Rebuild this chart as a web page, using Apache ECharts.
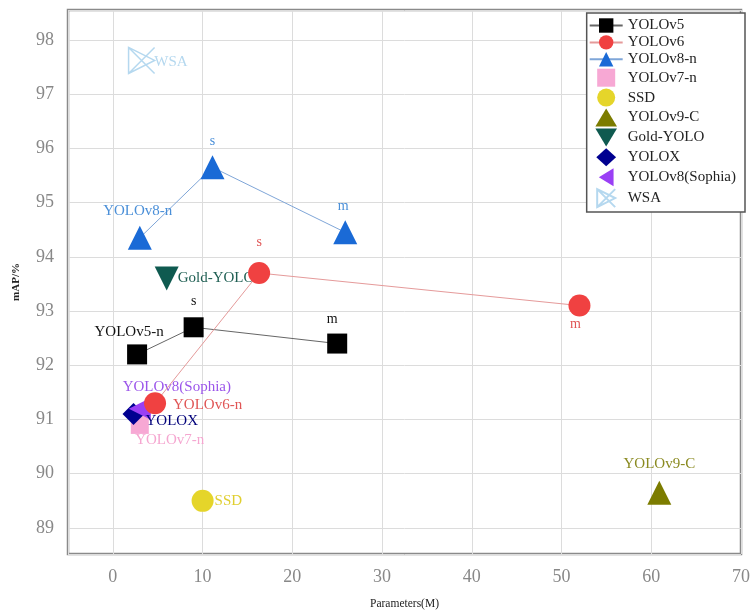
<!DOCTYPE html>
<html><head><meta charset="utf-8">
<script src="https://cdn.jsdelivr.net/npm/echarts@6/dist/echarts.min.js"></script>
<style>html,body{margin:0;padding:0;background:#fff}#c{width:753px;height:616px}</style>
</head><body><div id="c"></div>
<script>
// ---- data ----
const seriesNames = ['YOLOv5','YOLOv6','YOLOv8-n','YOLOv7-n','SSD','YOLOv9-C','Gold-YOLO','YOLOX','YOLOv8(Sophia)','WSA'];
const yolov5Params = [2.7, 9.0, 25.0];
const yolov5MAP    = [92.2, 92.7, 92.4];
const yolov5Labels = ['YOLOv5-n', 's', 'm'];
const yolov6Params = [4.7, 16.3, 52.0];
const yolov6MAP    = [91.3, 93.7, 93.1];
const yolov6Labels = ['YOLOv6-n', 's', 'm'];
const yolov8Params = [3.0, 11.1, 25.9];
const yolov8MAP    = [94.35, 95.65, 94.45];
const yolov8Labels = ['YOLOv8-n', 's', 'm'];
const yolov7nPoint = [3.0, 90.9];
const ssdPoint     = [10.0, 89.5];
const yolov9cPoint = [60.9, 89.65];
const goldYoloPoint= [6.0, 93.6];
const yoloxPoint   = [2.3, 91.1];
const sophiaPoint  = [3.0, 91.2];
const wsaPoint     = [3.2, 97.62];
const xTicks = [0,10,20,30,40,50,60,70];
const yTicks = [89,90,91,92,93,94,95,96,97,98];

const FONT = "'Liberation Serif','Times New Roman',serif";
const chart = echarts.init(document.getElementById('c'));

function lineData(xs, ys, labels, positions, color) {
  return xs.map((x, i) => ({
    value: [x, ys[i]],
    label: { show: true, formatter: labels[i], position: positions[i].pos, offset: positions[i].off || [0,0],
             color: color, fontFamily: FONT, fontSize: positions[i].fs || 14 }
  }));
}
function single(pt, text, pos, off, color) {
  return [{ value: pt, label: { show: true, formatter: text, position: pos, offset: off, color: color, fontFamily: FONT, fontSize: 15 } }];
}

const wsaPath = 'path://M0,0 L20,10 L0,20 Z M0,0 L20,20 M20,0 L0,20';
const icons = {
  rect: 'path://M0,0 L20,0 L20,20 L0,20 Z',
  circle: 'path://M10,0 A10,10 0 1,1 10,20 A10,10 0 1,1 10,0 Z',
  tri: 'path://M12,0 L24,20 L0,20 Z',
  down: 'path://M0,0 L24,0 L12,20 Z',
  diamond: 'path://M11,0 L22,10 L11,20 L0,10 Z',
  left: 'path://M0,11 L18,0 L18,22 Z'
};

chart.setOption({
  backgroundColor: '#fff',
  animation: false,
  grid: { left: 68, right: 12, top: 10, bottom: 62, show: true, borderColor: '#8a8a8a', borderWidth: 2.5 },
  legend: {
    orient: 'vertical', right: 8, top: 13,
    backgroundColor: '#fff', borderColor: '#555', borderWidth: 1.5, borderRadius: 0,
    padding: [5, 9, 4, 2], itemGap: 1.9, itemWidth: 33, itemHeight: 18,
    textStyle: { fontFamily: FONT, fontSize: 15, color: '#222' },
    data: [
      { name: 'YOLOv5' }, { name: 'YOLOv6' }, { name: 'YOLOv8-n' },
      { name: 'YOLOv7-n', icon: icons.rect },
      { name: 'SSD', icon: icons.circle },
      { name: 'YOLOv9-C', icon: icons.tri },
      { name: 'Gold-YOLO', icon: icons.down },
      { name: 'YOLOX', icon: icons.diamond },
      { name: 'YOLOv8(Sophia)', icon: icons.left },
      { name: 'WSA' }
    ]
  },
  xAxis: {
    type: 'value', min: -5, max: 70, splitNumber: 7,
    name: 'Parameters(M)', nameLocation: 'middle', nameGap: 44,
    nameTextStyle: { fontFamily: FONT, fontSize: 11.5, color: '#222' },
    axisLine: { show: false }, axisTick: { show: false },
    axisLabel: { showMinLabel: false, color: '#888', fontFamily: FONT, fontSize: 18, margin: 14,
      formatter: v => xTicks.includes(v) ? String(v) : '' },
    splitLine: { show: true, lineStyle: { color: '#dcdcdc', width: 1 } }
  },
  yAxis: {
    type: 'value', min: 88.52, max: 98.55, splitNumber: 10,
    name: 'mAP/%', nameLocation: 'middle', nameGap: 46,
    nameTextStyle: { fontFamily: FONT, fontSize: 11, color: '#222', fontWeight: 'bold' },
    axisLine: { show: false }, axisTick: { show: false },
    axisLabel: { showMinLabel: false, showMaxLabel: false, color: '#888', fontFamily: FONT, fontSize: 18, margin: 14,
      formatter: v => yTicks.includes(Math.round(v*100)/100) ? String(v) : '' },
    splitLine: { show: true, lineStyle: { color: '#dcdcdc', width: 1 } }
  },
  series: [
    { name: 'YOLOv5', type: 'line', symbol: 'rect', symbolSize: 20,
      itemStyle: { color: '#000' }, lineStyle: { color: '#666', width: 1 },
      data: lineData(yolov5Params, yolov5MAP, yolov5Labels,
        [{pos:'top', off:[-8,0], fs:15}, {pos:'top', off:[0,-4]}, {pos:'top', off:[-5,-2]}], '#111') },
    { name: 'YOLOv6', type: 'line', symbol: 'circle', symbolSize: 22,
      itemStyle: { color: '#f04141' }, lineStyle: { color: '#e59a9a', width: 1 },
      data: lineData(yolov6Params, yolov6MAP, yolov6Labels,
        [{pos:'right', off:[2,2], fs:15}, {pos:'top', off:[0,-8]}, {pos:'bottom', off:[-4,-4]}], '#e05555') },
    { name: 'YOLOv8-n', type: 'line', symbol: 'triangle', symbolSize: 24,
      itemStyle: { color: '#1a6ad6' }, lineStyle: { color: '#7fa6d8', width: 1 },
      data: lineData(yolov8Params, yolov8MAP, yolov8Labels,
        [{pos:'top', off:[-2,-2], fs:15}, {pos:'top', off:[0,-2]}, {pos:'top', off:[-2,-2]}], '#4a8fd8') },
    { name: 'YOLOv7-n', type: 'scatter', symbol: 'rect', symbolSize: 18, itemStyle: { color: '#f7a8d4', opacity: 1 },
      data: single(yolov7nPoint, 'YOLOv7-n', 'bottom', [30,-6], '#f5a6d0') },
    { name: 'SSD', type: 'scatter', symbol: 'circle', symbolSize: 22, itemStyle: { color: '#e5d52a', opacity: 1 },
      data: single(ssdPoint, 'SSD', 'right', [-4,0], '#e0cf30') },
    { name: 'YOLOv9-C', type: 'scatter', symbol: 'triangle', symbolSize: 24, itemStyle: { color: '#7c7c00', opacity: 1 },
      data: single(yolov9cPoint, 'YOLOv9-C', 'top', [0,-4], '#8a8a20') },
    { name: 'Gold-YOLO', type: 'scatter', symbol: 'triangle', symbolRotate: 180, symbolSize: 24, itemStyle: { color: '#0f5a50', opacity: 1 },
      data: single(goldYoloPoint, 'Gold-YOLO', 'right', [-6,0], '#1e5e52') },
    { name: 'YOLOX', type: 'scatter', symbol: 'diamond', symbolSize: 22, itemStyle: { color: '#000090', opacity: 1 },
      data: single(yoloxPoint, 'YOLOX', 'right', [-4,7], '#00007a') },
    { name: 'YOLOv8(Sophia)', type: 'scatter', symbol: 'triangle', symbolRotate: 90, symbolSize: 22, itemStyle: { color: '#9a3ff5', opacity: 1 },
      data: single(sophiaPoint, 'YOLOv8(Sophia)', 'top', [37,2], '#9b55ea') },
    { name: 'WSA', type: 'scatter', symbol: wsaPath, symbolSize: 26,
      itemStyle: { color: 'rgba(0,0,0,0)', borderColor: '#b5d8ef', borderWidth: 1.5, opacity: 1 },
      data: single(wsaPoint, 'WSA', 'right', [-6,2], '#b5d8ef') }
  ]
});
</script></body></html>
